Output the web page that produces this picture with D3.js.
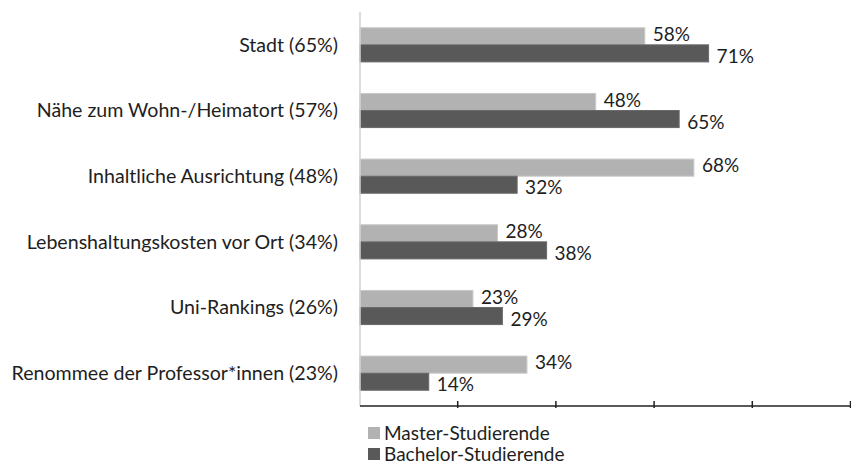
<!DOCTYPE html>
<html>
<head>
<meta charset="utf-8">
<script src="https://cdn.jsdelivr.net/npm/d3@7"></script>
<style>
  body { margin: 0; background: #fff; }
  text { font-family: Lato, "Open Sans", sans-serif; fill: #1e1e1e; }
</style>
</head>
<body>
<script>
// categories top to bottom
const categories = [
    "Stadt (65%)",
    "Nähe zum Wohn-/Heimatort (57%)",
    "Inhaltliche Ausrichtung (48%)",
    "Lebenshaltungskosten vor Ort (34%)",
    "Uni-Rankings (26%)",
    "Renommee der Professor*innen (23%)"
];
const seriesNames = ["Master-Studierende", "Bachelor-Studierende"];
const masterValues = [58, 48, 68, 28, 23, 34];
const bachelorValues = [71, 65, 32, 38, 29, 14];
const xTicks = [0, 20, 40, 60, 80, 100];

const colors = ["#b2b2b2", "#595959"];

const width = 851, height = 466;
const x0 = 360, x1 = 851, yTop = 12, yBottom = 406;

const svg = d3.select("body")
    .append("svg")
    .attr("width", width)
    .attr("height", height);

const xScale = d3.scaleLinear().domain([0, 100]).range([x0, x1]);
const yScale = d3.scaleBand().domain(categories).range([yTop, yBottom]).paddingInner(0.48).paddingOuter(0.24);
const sub = d3.scaleBand().domain(seriesNames).range([0, yScale.bandwidth()]);

const rows = categories.map((c, i) => ({ cat: c, vals: [masterValues[i], bachelorValues[i]] }));

// bars
const groups = svg.selectAll(".grp")
    .data(rows)
    .enter().append("g")
    .attr("class", "grp")
    .attr("transform", d => "translate(0," + yScale(d.cat) + ")");

groups.selectAll("rect")
    .data(d => d.vals.map((v, j) => ({ v: v, s: seriesNames[j], j: j })))
    .enter().append("rect")
    .attr("x", xScale(0))
    .attr("y", d => sub(d.s))
    .attr("width", d => xScale(d.v) - xScale(0))
    .attr("height", sub.bandwidth())
    .style("fill", d => colors[d.j])
    .style("stroke", d => d.j === 0 ? "#c8c8c8" : "#6a6a6a")
    .style("stroke-width", "1px");

// value labels
groups.selectAll(".val")
    .data(d => d.vals.map((v, j) => ({ v: v, s: seriesNames[j], j: j })))
    .enter().append("text")
    .attr("class", "val")
    .attr("x", d => xScale(d.v) + 8)
    .attr("y", d => sub(d.s) + sub.bandwidth() / 2 + (d.j === 0 ? -2 : 3))
    .attr("dy", "0.35em")
    .attr("style", "font-size: 19px;")
    .text(d => d.v + "%");

// category labels
svg.selectAll(".cat")
    .data(categories)
    .enter().append("text")
    .attr("class", "cat")
    .attr("x", x0 - 22)
    .attr("y", d => yScale(d) + yScale.bandwidth() / 2)
    .attr("dy", "0.35em")
    .attr("text-anchor", "end")
    .attr("style", "font-size: 19.6px;")
    .text(d => d);

// vertical axis line
svg.append("line")
    .attr("x1", x0).attr("x2", x0)
    .attr("y1", yTop).attr("y2", yBottom)
    .style("stroke", "#d0d0d0")
    .style("stroke-width", "1.5px");

// x axis (no labels, cross ticks)
const xAxis = svg.append("g")
    .attr("transform", "translate(0," + yBottom + ")");
xAxis.append("line")
    .attr("x1", x0).attr("x2", x1)
    .style("stroke", "#222")
    .style("stroke-width", "1.5px");
xAxis.selectAll(".tick")
    .data(xTicks.slice(1))
    .enter().append("line")
    .attr("class", "tick")
    .attr("x1", d => xScale(d) - 0.5).attr("x2", d => xScale(d) - 0.5)
    .attr("y1", -5).attr("y2", 2)
    .style("stroke", "#222")
    .style("stroke-width", "1.5px");

// legend
const legend = svg.selectAll(".leg")
    .data(seriesNames)
    .enter().append("g")
    .attr("class", "leg")
    .attr("transform", (d, i) => "translate(368," + (433 + i * 21) + ")");
legend.append("rect")
    .attr("x", 0).attr("y", -6)
    .attr("width", 12).attr("height", 12)
    .style("fill", (d, i) => colors[i]);
legend.append("text")
    .attr("x", 16)
    .attr("dy", "0.35em")
    .attr("style", "font-size: 19px;")
    .text(d => d);
</script>
</body>
</html>
